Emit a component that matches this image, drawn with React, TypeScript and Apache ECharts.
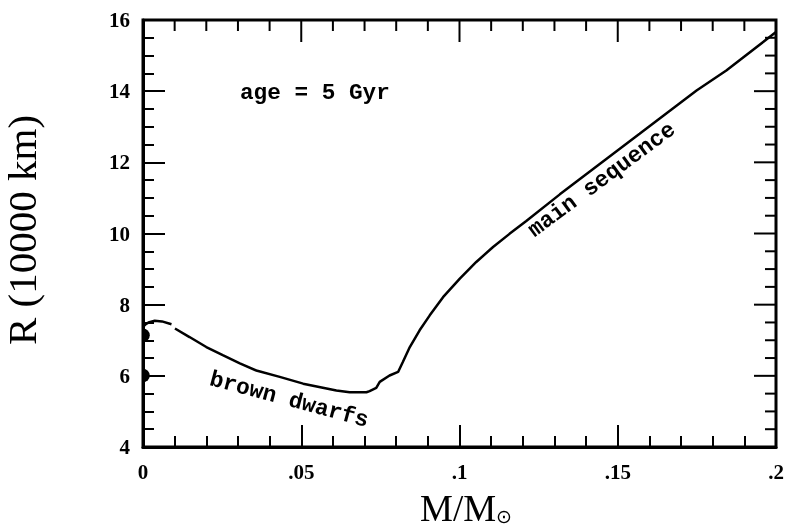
import { useEffect, useRef } from "react";
import * as echarts from "echarts";

// ---- data ----
const xTickLabels = ["0", ".05", ".1", ".15", ".2"];
const yTickValues = [4, 6, 8, 10, 12, 14, 16];

const xMajorTicks = [0, 0.05, 0.1, 0.15, 0.2];
const xMinorTicks = [
  0.01, 0.02, 0.03, 0.04, 0.06, 0.07, 0.08, 0.09, 0.11, 0.12, 0.13, 0.14, 0.16, 0.17, 0.18, 0.19,
];
const yMajorTicks = [4, 6, 8, 10, 12, 14, 16];
const yMinorTicks = [
  4.5, 5, 5.5, 6.5, 7, 7.5, 8.5, 9, 9.5, 10.5, 11, 11.5, 12.5, 13, 13.5, 14.5, 15, 15.5,
];

// short early segment near M = 0
const earlyMass = [0, 0.001, 0.002, 0.0037, 0.006, 0.009];
const earlyRadius = [7.38, 7.46, 7.51, 7.55, 7.53, 7.45];

// brown dwarf + main sequence branch
const mainMass = [
  0.0101, 0.0147, 0.02, 0.0252, 0.0306, 0.0358, 0.0432, 0.0506, 0.0611, 0.0653,
  0.0706, 0.0716, 0.0737, 0.0748, 0.0779, 0.0806, 0.0821, 0.0843, 0.0874, 0.0906,
  0.0948, 0.1001, 0.1053, 0.1106, 0.1158, 0.1211, 0.1317, 0.1569, 0.1749, 0.1843, 0.2,
];
const mainRadius = [
  7.33, 7.09, 6.81, 6.58, 6.35, 6.15, 5.97, 5.78, 5.59, 5.54,
  5.54, 5.57, 5.66, 5.83, 6.01, 6.11, 6.39, 6.81, 7.28, 7.7,
  8.21, 8.73, 9.2, 9.62, 9.99, 10.35, 11.1, 12.8, 14.02, 14.58, 15.66,
];

// filled dots on the R axis
const dotMass = [0, 0];
const dotRadius = [7.14, 6.01];

const annotations = ["age = 5 Gyr", "brown dwarfs", "main sequence"];

export default function App() {
  const ref = useRef<HTMLDivElement>(null);

  useEffect(() => {
    if (!ref.current) return;
    const chart = echarts.init(ref.current, undefined, { renderer: "svg" });

    const black = "#000";
    const X_MIN = 0, X_MAX = 0.2, Y_MIN = 4, Y_MAX = 16;
    const MAJOR = 22, MINOR = 11;

    const tickFont = {
      color: black,
      fontFamily: "Liberation Serif",
      fontWeight: "bold",
      fontSize: 21,
    };

    const monoText = {
      fill: black,
      fontFamily: "Liberation Mono",
      fontWeight: "bold",
      fontSize: 22.7,
    };

    // ticks on the top edge (mirrors of the bottom axis ticks)
    const topTickSeries = (ticks: number[], len: number) => ({
      type: "custom",
      data: ticks.map((v) => [v, Y_MAX]),
      renderItem: (_p: any, api: any) => {
        const t = api.coord([api.value(0), Y_MAX]);
        return {
          type: "rect",
          shape: { x: t[0] - 1, y: t[1], width: 2, height: len },
          style: { fill: black },
        };
      },
    });

    // ticks on the right edge (mirrors of the left axis ticks)
    const rightTickSeries = (ticks: number[], len: number) => ({
      type: "custom",
      data: ticks.map((v) => [X_MAX, v]),
      renderItem: (_p: any, api: any) => {
        const r = api.coord([X_MAX, api.value(1)]);
        return {
          type: "rect",
          shape: { x: r[0] - len, y: r[1] - 1, width: len, height: 2 },
          style: { fill: black },
        };
      },
    });

    chart.setOption({
      animation: false,
      grid: { left: 143, top: 20, width: 633, height: 427, show: true, borderColor: black, borderWidth: 3 },
      xAxis: {
        type: "value",
        min: X_MIN,
        max: X_MAX,
        interval: 0.05,
        axisLine: { show: true, lineStyle: { color: black, width: 3 } },
        axisTick: { show: true, inside: true, length: MAJOR, lineStyle: { color: black, width: 2 } },
        minorTick: { show: true, splitNumber: 5, length: MINOR, lineStyle: { color: black, width: 2 } },
        splitLine: { show: false },
        axisLabel: {
          margin: 14,
          ...tickFont,
          formatter: (v: number) => xTickLabels[Math.round(v / 0.05)] ?? "",
        },
      },
      yAxis: {
        type: "value",
        min: Y_MIN,
        max: Y_MAX,
        interval: 2,
        axisLine: { show: true, lineStyle: { color: black, width: 3 } },
        axisTick: { show: true, inside: true, length: MAJOR, lineStyle: { color: black, width: 2 } },
        minorTick: { show: true, splitNumber: 4, length: MINOR, lineStyle: { color: black, width: 2 } },
        splitLine: { show: false },
        axisLabel: {
          margin: 13,
          ...tickFont,
          formatter: (v: number) => (yTickValues.includes(v) ? String(v) : ""),
        },
      },
      series: [
        {
          type: "line",
          data: earlyMass.map((m, i) => [m, earlyRadius[i]]),
          showSymbol: false,
          lineStyle: { color: black, width: 2.5 },
        },
        {
          type: "line",
          data: mainMass.map((m, i) => [m, mainRadius[i]]),
          showSymbol: false,
          lineStyle: { color: black, width: 2.5 },
        },
        {
          type: "custom",
          data: dotMass.map((m, i) => [m, dotRadius[i]]),
          renderItem: (_p: any, api: any) => {
            const p = api.coord([api.value(0), api.value(1)]);
            return {
              type: "sector",
              shape: { cx: p[0], cy: p[1], r0: 0, r: 6.8, startAngle: -Math.PI / 2, endAngle: Math.PI / 2 },
              style: { fill: black },
            };
          },
        },
        topTickSeries(xMajorTicks, MAJOR),
        topTickSeries(xMinorTicks, MINOR),
        rightTickSeries(yMajorTicks, MAJOR),
        rightTickSeries(yMinorTicks, MINOR),
      ],
    });

    chart.setOption({
      graphic: [
        {
          type: "text",
          x: 240,
          y: 93.2,
          style: { ...monoText, text: annotations[0], align: "left", verticalAlign: "middle" },
        },
        {
          type: "text",
          x: 289,
          y: 400,
          rotation: (-15 * Math.PI) / 180,
          style: { ...monoText, text: annotations[1], align: "center", verticalAlign: "middle" },
        },
        {
          type: "text",
          x: 602,
          y: 180,
          rotation: (36.5 * Math.PI) / 180,
          style: { ...monoText, text: annotations[2], align: "center", verticalAlign: "middle" },
        },
        {
          type: "text",
          x: 22,
          y: 230,
          rotation: Math.PI / 2,
          style: {
            text: "R (10000 km)",
            fill: black,
            fontFamily: "Liberation Serif",
            fontSize: 41,
            align: "center",
            verticalAlign: "middle",
          },
        },
        {
          type: "text",
          x: 420,
          y: 508,
          style: {
            text: "M/M",
            fill: black,
            fontFamily: "Liberation Serif",
            fontSize: 37,
            align: "left",
            verticalAlign: "middle",
          },
        },
        {
          type: "text",
          x: 504,
          y: 516,
          style: {
            text: "⊙",
            fill: black,
            fontFamily: "DejaVu Sans",
            fontSize: 19,
            align: "center",
            verticalAlign: "middle",
          },
        },
      ],
    });

    return () => chart.dispose();
  }, []);

  return <div ref={ref} style={{ position: "fixed", left: 0, top: 0, width: 789, height: 529 }} />;
}
